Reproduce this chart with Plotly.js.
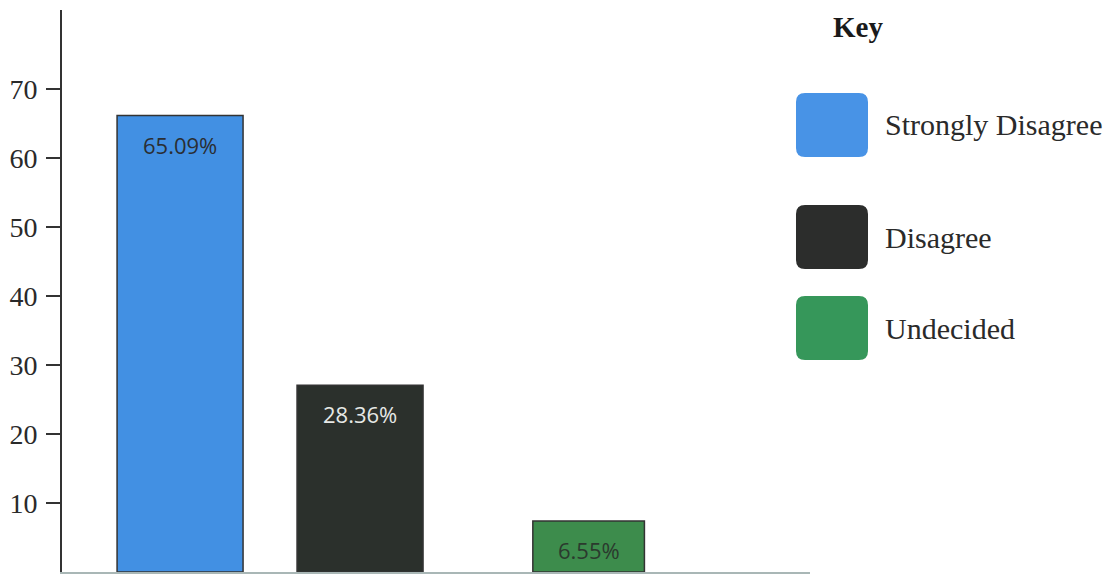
<!DOCTYPE html>
<html>
<head>
<meta charset="utf-8">
<script src="https://cdn.plot.ly/plotly-3.0.1.min.js"></script>
<style>html,body{margin:0;padding:0;background:#fff;}#chart{width:1115px;height:575px;}</style>
</head>
<body>
<div id="chart"></div>
<script>
// ---- data ----
const categories = ["Strongly Disagree", "Disagree", "Undecided"];
const values = [66.2, 27.1, 7.4];
const valueLabels = ["65.09%", "28.36%", "6.55%"];
const tickValues = [10, 20, 30, 40, 50, 60, 70];
const tickLabels = ["10", "20", "30", "40", "50", "60", "70"];
const legendTitle = "Key";

// ---- styles ----
const barColors = ["#4290e3", "#2b302c", "#3d8c4c"];
const swatchColors = ["#4893e6", "#2c2d2c", "#36975a"];
const labelColors = ["#2a2e33", "#e6e8e6", "#2b3a2e"];
const W = 1115, H = 575;
const M = {l: 62, r: 305, t: 10, b: 3};
const PW = W - M.l - M.r, PH = H - M.t - M.b;
const px2x = p => (p - M.l) / PW;
const px2y = p => (H - M.b - p) / PH;

function roundRect(x0, y0, x1, y1, r) {
  const X = v => px2x(v).toFixed(5), Y = v => px2y(v).toFixed(5);
  return `M${X(x0 + r)},${Y(y0)} L${X(x1 - r)},${Y(y0)} Q${X(x1)},${Y(y0)} ${X(x1)},${Y(y0 + r)} ` +
         `L${X(x1)},${Y(y1 - r)} Q${X(x1)},${Y(y1)} ${X(x1 - r)},${Y(y1)} ` +
         `L${X(x0 + r)},${Y(y1)} Q${X(x0)},${Y(y1)} ${X(x0)},${Y(y1 - r)} ` +
         `L${X(x0)},${Y(y0 + r)} Q${X(x0)},${Y(y0)} ${X(x0 + r)},${Y(y0)} Z`;
}

const swatchBoxes = [[796, 93, 868, 157], [796, 205, 868, 269], [796, 296, 868, 360]];

const trace = {
  type: "bar",
  x: categories,
  y: values,
  width: [0.7, 0.7, 0.62],
  offset: [-0.35, -0.35, -0.04],
  marker: {color: barColors, line: {color: "#333333", width: 1.5}},
  hoverinfo: "skip"
};

const annotations = categories.map((c, i) => ({
  x: c, y: values[i], xref: "x", yref: "y",
  xshift: i === 2 ? (0.27 * 180) : 0,
  yshift: -29, yanchor: "middle", showarrow: false,
  text: valueLabels[i],
  font: {family: "Open Sans, sans-serif", size: 22, color: labelColors[i]}
}));

annotations.push({
  xref: "paper", yref: "paper", x: px2x(858), y: px2y(27),
  xanchor: "center", yanchor: "middle", showarrow: false,
  text: "<b>" + legendTitle + "</b>",
  font: {family: "Liberation Serif, serif", size: 29, color: "#1a1a1a"}
});
const legendTextY = [125, 237, 328];
categories.forEach((c, i) => annotations.push({
  xref: "paper", yref: "paper", x: px2x(883), y: px2y(legendTextY[i]),
  xanchor: "left", yanchor: "middle", showarrow: false,
  text: c,
  font: {family: "Liberation Serif, serif", size: 30, color: "#2a2a2a"}
}));

const shapes = swatchBoxes.map((b, i) => ({
  type: "path", xref: "paper", yref: "paper",
  path: roundRect(b[0], b[1], b[2], b[3], 9),
  fillcolor: swatchColors[i], line: {width: 0}
}));

const layout = {
  width: W, height: H,
  margin: M,
  paper_bgcolor: "#ffffff", plot_bgcolor: "#ffffff",
  showlegend: false,
  bargap: 0.3,
  xaxis: {
    range: [-0.656, 3.5], showticklabels: false, ticks: "",
    showgrid: false, zeroline: false,
    showline: true, linecolor: "#a9b7b6", linewidth: 1.5, fixedrange: true
  },
  yaxis: {
    range: [0, 81.5], tickmode: "array", tickvals: tickValues, ticktext: tickLabels,
    ticks: "outside", ticklen: 14, tickwidth: 2, tickcolor: "#333333",
    ticklabelstandoff: 3,
    showgrid: false, zeroline: false,
    showline: true, linecolor: "#333333", linewidth: 2,
    tickfont: {family: "Liberation Serif, serif", size: 28, color: "#2a2a2a"},
    fixedrange: true
  },
  annotations: annotations,
  shapes: shapes
};

Plotly.newPlot("chart", [trace], layout, {displayModeBar: false, staticPlot: true});
</script>
</body>
</html>
